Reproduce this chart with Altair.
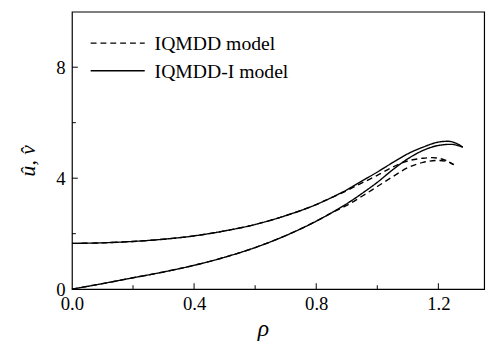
import altair as alt
import pandas as pd

# ---- data ----
rho_I_v = [0.0, 0.1, 0.2, 0.3, 0.4, 0.5, 0.6, 0.7, 0.8, 0.85, 0.9, 0.95, 1.0, 1.05, 1.1, 1.15, 1.2, 1.23, 1.26, 1.28]
v_I = [1.65, 1.67, 1.72, 1.80, 1.92, 2.10, 2.33, 2.65, 3.05, 3.30, 3.58, 3.90, 4.22, 4.56, 4.88, 5.12, 5.30, 5.33, 5.25, 5.12]

rho_I_u = [0.0, 0.1, 0.2, 0.3, 0.4, 0.5, 0.6, 0.7, 0.8, 0.85, 0.9, 0.95, 1.0, 1.05, 1.1, 1.15, 1.2, 1.24, 1.28]
u_I = [0.0, 0.20, 0.41, 0.62, 0.86, 1.15, 1.50, 1.93, 2.45, 2.75, 3.08, 3.45, 3.85, 4.30, 4.70, 5.00, 5.18, 5.22, 5.12]

rho_v = [0.0, 0.1, 0.2, 0.3, 0.4, 0.5, 0.6, 0.7, 0.8, 0.85, 0.9, 0.95, 1.0, 1.05, 1.1, 1.15, 1.18, 1.22, 1.25]
v = [1.65, 1.67, 1.72, 1.80, 1.92, 2.10, 2.33, 2.65, 3.05, 3.30, 3.55, 3.83, 4.10, 4.40, 4.62, 4.72, 4.74, 4.66, 4.49]

rho_u = [0.0, 0.1, 0.2, 0.3, 0.4, 0.5, 0.6, 0.7, 0.8, 0.85, 0.9, 0.95, 1.0, 1.05, 1.1, 1.15, 1.2, 1.23, 1.25]
u = [0.0, 0.20, 0.41, 0.62, 0.86, 1.15, 1.50, 1.93, 2.45, 2.75, 3.02, 3.35, 3.70, 4.05, 4.38, 4.57, 4.64, 4.60, 4.49]

models = ["IQMDD model", "IQMDD-I model"]

x_major = [0.4, 0.8, 1.2]
x_minor = [0.2, 0.6, 1.0]
y_major = [4, 8]
y_minor = [2, 6]

rows = []
for r, val in zip(rho_I_v, v_I):
    rows.append({"rho": r, "val": val, "model": models[1], "var": "v"})
for r, val in zip(rho_I_u, u_I):
    rows.append({"rho": r, "val": val, "model": models[1], "var": "u"})
for r, val in zip(rho_v, v):
    rows.append({"rho": r, "val": val, "model": models[0], "var": "v"})
for r, val in zip(rho_u, u):
    rows.append({"rho": r, "val": val, "model": models[0], "var": "u"})
df = pd.DataFrame(rows)

W, H = 419, 282
FONT = "Liberation Serif"

xscale = alt.Scale(domain=[0, 1.35], nice=False, zero=False)
yscale = alt.Scale(domain=[0, 10], nice=False, zero=False)

xaxis = alt.Axis(values=[0, 0.4, 0.8, 1.2], format=".1f", title="ρ",
                 labelFont=FONT, labelFontSize=19, labelColor="black",
                 labelFlush=False, labelPadding=6, labelOverlap=False,
                 domain=False, ticks=False, grid=False,
                 titleFont=FONT, titleFontSize=24, titleFontStyle="italic",
                 titleFontWeight="normal", titleColor="black",
                 titleX=194, titleY=47, titleBaseline="alphabetic",
                 titleAlign="center", titleAngle=0)
yaxis = alt.Axis(values=[0, 4, 8], format="d", title="û, v̂",
                 labelFont=FONT, labelFontSize=19, labelColor="black",
                 labelFlush=False, labelPadding=7, labelOverlap=False,
                 domain=False, ticks=False, grid=False,
                 titleFont=FONT, titleFontSize=22, titleFontStyle="italic",
                 titleFontWeight="normal", titleColor="black",
                 titleX=-45, titleY=151, titleBaseline="middle",
                 titleAlign="center", titleAngle=270)

lines = alt.Chart(df).mark_line(color="black", strokeWidth=1.4, interpolate="monotone").encode(
    x=alt.X("rho:Q", scale=xscale, axis=xaxis, title="ρ"),
    y=alt.Y("val:Q", scale=yscale, axis=yaxis, title="û, v̂"),
    strokeDash=alt.StrokeDash("model:N",
                              scale=alt.Scale(domain=models, range=[[6, 4], [1, 0]]),
                              legend=None),
    detail="var:N",
)

xt_major = alt.Chart(pd.DataFrame({"rho": x_major})).mark_rule(color="black", strokeWidth=1).encode(
    x=alt.X("rho:Q", scale=xscale, axis=xaxis, title="ρ"), y=alt.value(H), y2=alt.value(H - 6))
xt_minor = alt.Chart(pd.DataFrame({"rho": x_minor})).mark_rule(color="black", strokeWidth=1).encode(
    x=alt.X("rho:Q", scale=xscale, axis=xaxis, title="ρ"), y=alt.value(H), y2=alt.value(H - 4))
yt_major = alt.Chart(pd.DataFrame({"val": y_major})).mark_rule(color="black", strokeWidth=1).encode(
    y=alt.Y("val:Q", scale=yscale, axis=yaxis, title="û, v̂"), x=alt.value(0), x2=alt.value(6))
yt_minor = alt.Chart(pd.DataFrame({"val": y_minor})).mark_rule(color="black", strokeWidth=1).encode(
    y=alt.Y("val:Q", scale=yscale, axis=yaxis, title="û, v̂"), x=alt.value(0), x2=alt.value(4))

leg_df = pd.DataFrame({"label": models})
leg_dash = alt.Chart(leg_df.iloc[[0]]).mark_rule(color="black", strokeWidth=1.3, strokeDash=[6, 4]).encode(
    x=alt.value(19), x2=alt.value(74), y=alt.value(32))
leg_solid = alt.Chart(leg_df.iloc[[1]]).mark_rule(color="black", strokeWidth=1.4).encode(
    x=alt.value(19), x2=alt.value(74), y=alt.value(60))
leg_t1 = alt.Chart(leg_df.iloc[[0]]).mark_text(align="left", baseline="middle", font=FONT,
                                               fontSize=20, color="black").encode(
    x=alt.value(84), y=alt.value(33), text="label:N")
leg_t2 = alt.Chart(leg_df.iloc[[1]]).mark_text(align="left", baseline="middle", font=FONT,
                                               fontSize=20, color="black").encode(
    x=alt.value(84), y=alt.value(61), text="label:N")

chart = alt.layer(
    lines, xt_major, xt_minor, yt_major, yt_minor, leg_dash, leg_solid, leg_t1, leg_t2
).properties(
    width=W, height=H,
    autosize=alt.AutoSizeParams(type="none"),
    padding={"left": 65, "top": 1, "right": 10, "bottom": 56},
).configure_view(
    stroke="black", strokeWidth=1.2
)

chart.save("out.html", embed_options={"renderer": "svg", "actions": False})
